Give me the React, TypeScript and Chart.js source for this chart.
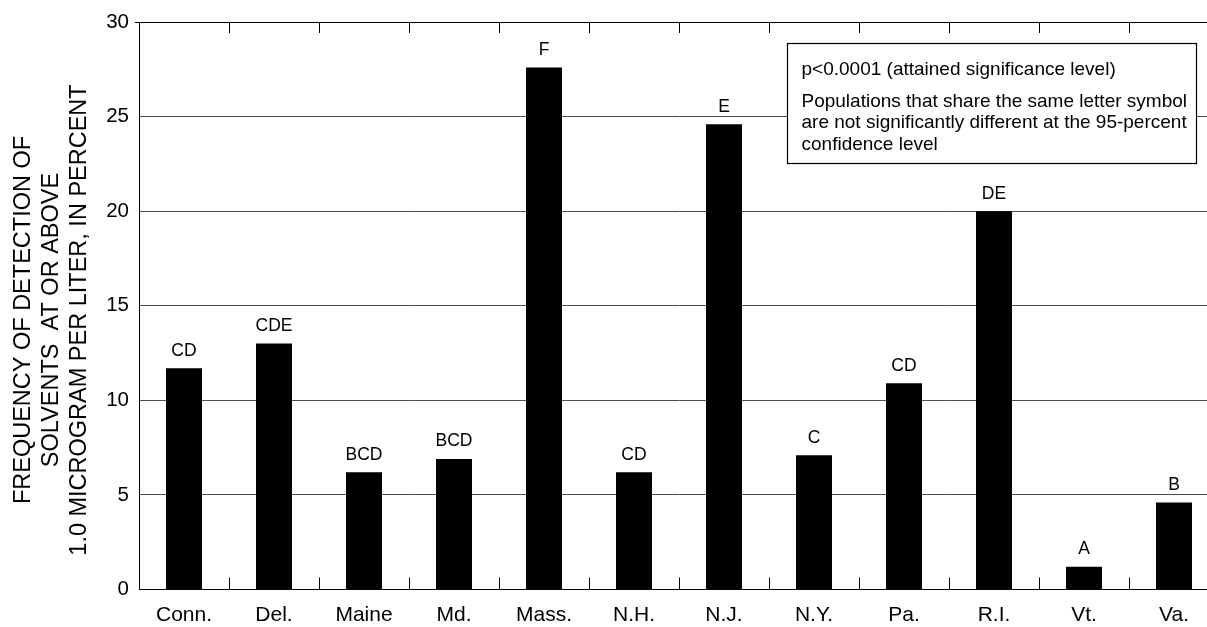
import React, { useEffect, useRef } from "react";
import { Chart, registerables } from "chart.js";

Chart.register(...registerables);

const states = ["Conn.", "Del.", "Maine", "Md.", "Mass.", "N.H.", "N.J.", "N.Y.", "Pa.", "R.I.", "Vt.", "Va."];
const frequencies = [11.7, 13.0, 6.2, 6.9, 27.6, 6.2, 24.6, 7.1, 10.9, 20.0, 1.2, 4.6];
const letterGroups = ["CD", "CDE", "BCD", "BCD", "F", "CD", "E", "C", "CD", "DE", "A", "B"];
const yTicks = [0, 5, 10, 15, 20, 25, 30];
const yTitleLines = ["FREQUENCY OF DETECTION OF", "SOLVENTS  AT OR ABOVE", "1.0 MICROGRAM PER LITER, IN PERCENT"];
const noteLines = [
  "p<0.0001 (attained significance level)",
  "Populations that share the same letter symbol",
  "are not significantly different at the 95-percent",
  "confidence level",
];

const FONT = "'Liberation Sans', Arial, Helvetica, sans-serif";

const overlayPlugin = {
  id: "overlay",
  afterDatasetsDraw(chart: any) {
    const ctx = chart.ctx;
    const xs = chart.scales.x;
    const area = chart.chartArea;
    const step = xs.getPixelForValue(1) - xs.getPixelForValue(0);
    ctx.save();
    ctx.strokeStyle = "#000";
    ctx.lineWidth = 1;
    ctx.beginPath();
    for (let i = 0; i < states.length; i++) {
      const px = Math.round(xs.getPixelForValue(i) + step / 2) + 0.5;
      ctx.moveTo(px, area.bottom);
      ctx.lineTo(px, area.bottom - 12);
      ctx.moveTo(px, area.top);
      ctx.lineTo(px, area.top + 11);
    }
    ctx.stroke();

    // letter labels above bars
    const meta = chart.getDatasetMeta(0);
    ctx.fillStyle = "#000";
    ctx.font = `17.5px ${FONT}`;
    ctx.textAlign = "center";
    ctx.textBaseline = "alphabetic";
    meta.data.forEach((bar: any, i: number) => {
      ctx.fillText(letterGroups[i], bar.x, bar.y - 12.5);
    });
    ctx.restore();
  },
  afterDraw(chart: any) {
    const ctx = chart.ctx;
    const area = chart.chartArea;
    ctx.save();
    // annotation box
    const bx = area.right - 432;
    const by = area.top + 21;
    const bw = 408.5;
    const bh = 120;
    ctx.fillStyle = "#fff";
    ctx.fillRect(Math.round(bx), Math.round(by), Math.round(bw), Math.round(bh));
    ctx.strokeStyle = "#000";
    ctx.lineWidth = 1.2;
    ctx.strokeRect(Math.round(bx) + 0.5, Math.round(by) + 0.5, Math.round(bw), Math.round(bh));
    ctx.fillStyle = "#000";
    ctx.font = `19px ${FONT}`;
    ctx.textAlign = "left";
    ctx.textBaseline = "alphabetic";
    const baselines = [31.5, 63.5, 85, 107];
    noteLines.forEach((t, i) => ctx.fillText(t, bx + 14.5, by + baselines[i]));

    // y-axis title
    ctx.font = `23.5px ${FONT}`;
    ctx.textAlign = "center";
    ctx.textBaseline = "middle";
    const xCenters = [23.5, 51.7, 80];
    yTitleLines.forEach((t, i) => {
      ctx.save();
      ctx.translate(xCenters[i], 320);
      ctx.rotate(-Math.PI / 2);
      ctx.fillText(t, 0, 0);
      ctx.restore();
    });
    ctx.restore();
  },
};

export default function App() {
  const canvasRef = useRef<HTMLCanvasElement | null>(null);

  useEffect(() => {
    if (!canvasRef.current) return;
    const chart = new Chart(canvasRef.current, {
      type: "bar",
      data: {
        labels: states,
        datasets: [
          {
            data: frequencies,
            backgroundColor: "#000",
            borderWidth: 0,
            barPercentage: 0.4,
            categoryPercentage: 1.0,
          },
        ],
      },
      options: {
        responsive: false,
        animation: false,
        devicePixelRatio: 1,
        layout: { padding: { left: 0, right: 11, top: 22, bottom: 0 } },
        plugins: {
          legend: { display: false },
          tooltip: { enabled: false },
          title: { display: false },
        },
        scales: {
          x: {
            type: "category",
            grid: { display: false, drawTicks: false },
            border: { display: true, color: "#000", width: 1 },
            ticks: {
              color: "#000",
              font: { family: FONT, size: 21 },
              padding: 13,
              maxRotation: 0,
              autoSkip: false,
            },
            afterFit: (s: any) => {
              s.height = 37.5;
            },
          },
          y: {
            min: 0,
            max: 30,
            afterBuildTicks: (s: any) => {
              s.ticks = yTicks.map((v) => ({ value: v }));
            },
            grid: {
              color: (c: any) => (c.tick && (c.tick.value === 30 || c.tick.value === 0) ? "#000" : "#4d4d4d"),
              lineWidth: 1,
              tickLength: 4,
              tickColor: (c: any) => (c.tick && c.tick.value === 30 ? "#000" : "rgba(0,0,0,0)"),
            },
            border: { display: true, color: "#000", width: 1 },
            ticks: {
              color: "#000",
              font: { family: FONT, size: 20.5 },
              padding: 6,
            },
            afterFit: (s: any) => {
              s.width = 139;
            },
          },
        },
      },
      plugins: [overlayPlugin],
    } as any);
    return () => chart.destroy();
  }, []);

  return (
    <div
      style={{
        position: "absolute",
        left: 0,
        top: 0,
        width: 1207,
        height: 627,
        overflow: "hidden",
        background: "#fff",
      }}
    >
      <canvas ref={canvasRef} width={1230} height={627} style={{ display: "block" }} />
    </div>
  );
}
